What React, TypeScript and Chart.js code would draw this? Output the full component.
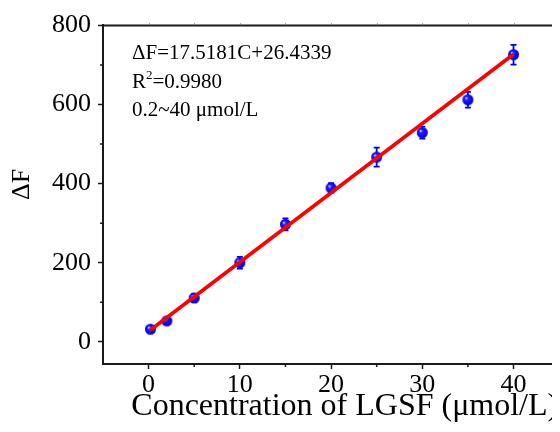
import React, { useEffect, useRef } from "react";
import { Chart, registerables } from "chart.js";

Chart.register(...registerables);

// ---- data ----
const concentrations = [0.2, 2, 5, 10, 15, 20, 25, 30, 35, 40];
const deltaF = [32, 53, 111, 200, 297, 389, 467, 529, 612, 726];
const errors = [5, 8, 10, 15, 15, 12, 24, 15, 20, 25];
const fitSlope = 17.5181;
const fitIntercept = 26.4339;
const fitRange = [0.2, 40];
const xTickValues = [0, 10, 20, 30, 40];
const xMinorTicks = [5, 15, 25, 35, 45];
const yTickValues = [0, 200, 400, 600, 800];
const yMinorTicks = [100, 300, 500, 700];
const eqLine = "ΔF=17.5181C+26.4339";
const r2Parts = ["R", "2", "=0.9980"];
const rangeLine = "0.2~40 μmol/L";
const xTitle = "Concentration of LGSF (μmol/L)";
const yTitle = "ΔF";

const SERIF = "'Liberation Serif', 'Times New Roman', serif";
const AXIS = "#1a1a1a";

function makeSphere(r: number) {
  const s = Math.ceil(r * 2 + 2);
  const c = document.createElement("canvas");
  c.width = s;
  c.height = s;
  const g = c.getContext("2d")!;
  const cx = s / 2;
  const grd = g.createRadialGradient(cx - r * 0.35, cx - r * 0.35, r * 0.05, cx, cx, r);
  grd.addColorStop(0, "#d0d0ff");
  grd.addColorStop(0.3, "#1e1eff");
  grd.addColorStop(1, "#0000d8");
  g.fillStyle = grd;
  g.beginPath();
  g.arc(cx, cx, r, 0, Math.PI * 2);
  g.fill();
  return c;
}

const errorBarPlugin = {
  id: "errorBars",
  beforeDatasetsDraw(chart: any) {
    const { ctx } = chart;
    const xs = chart.scales.x;
    const ys = chart.scales.y;
    ctx.save();
    ctx.strokeStyle = "#0000ff";
    ctx.lineWidth = 1.8;
    const cap = 3;
    concentrations.forEach((c, i) => {
      const x = xs.getPixelForValue(c);
      const yt = ys.getPixelForValue(deltaF[i] + errors[i]);
      const yb = ys.getPixelForValue(deltaF[i] - errors[i]);
      ctx.beginPath();
      ctx.moveTo(x, yt);
      ctx.lineTo(x, yb);
      ctx.moveTo(x - cap, yt);
      ctx.lineTo(x + cap, yt);
      ctx.moveTo(x - cap, yb);
      ctx.lineTo(x + cap, yb);
      ctx.stroke();
    });
    ctx.restore();
  },
};

const framePlugin = {
  id: "frame",
  afterDraw(chart: any) {
    const { ctx, chartArea } = chart;
    const xs = chart.scales.x;
    const ys = chart.scales.y;
    ctx.save();
    ctx.strokeStyle = AXIS;
    // top border
    ctx.lineWidth = 2;
    ctx.beginPath();
    ctx.moveTo(chartArea.left - 1, chartArea.top);
    ctx.lineTo(chartArea.right, chartArea.top);
    ctx.stroke();
    // top small ticks
    ctx.lineWidth = 1;
    ctx.strokeStyle = "#777";
    ctx.beginPath();
    [...xTickValues, ...xMinorTicks].forEach((v) => {
      const x = Math.round(xs.getPixelForValue(v)) + 0.5;
      ctx.moveTo(x, chartArea.top);
      ctx.lineTo(x, chartArea.top - 2);
    });
    ctx.stroke();
    // minor ticks bottom / left
    ctx.strokeStyle = AXIS;
    ctx.lineWidth = 1.5;
    ctx.beginPath();
    xMinorTicks.forEach((v) => {
      const x = xs.getPixelForValue(v);
      ctx.moveTo(x, chartArea.bottom);
      ctx.lineTo(x, chartArea.bottom + 3);
    });
    yMinorTicks.forEach((v) => {
      const y = ys.getPixelForValue(v);
      ctx.moveTo(chartArea.left, y);
      ctx.lineTo(chartArea.left - 3, y);
    });
    ctx.stroke();

    // y axis title
    ctx.fillStyle = "#000";
    ctx.save();
    ctx.translate(14, chartArea.top + 159);
    ctx.rotate(-Math.PI / 2);
    ctx.textAlign = "center";
    ctx.textBaseline = "middle";
    ctx.font = `26px ${SERIF}`;
    ctx.fillText(yTitle, 0, 0);
    ctx.restore();

    // annotation
    ctx.textBaseline = "middle";
    ctx.textAlign = "left";
    ctx.font = `21px ${SERIF}`;
    const lx = chartArea.left + 29;
    ctx.fillText(eqLine, lx, chartArea.top + 28);
    const y2 = chartArea.top + 57;
    ctx.fillText(r2Parts[0], lx, y2);
    const rW = ctx.measureText(r2Parts[0]).width;
    ctx.font = `13px ${SERIF}`;
    ctx.fillText(r2Parts[1], lx + rW, y2 - 7);
    const sW = ctx.measureText(r2Parts[1]).width;
    ctx.font = `21px ${SERIF}`;
    ctx.fillText(r2Parts[2], lx + rW + sW, y2);
    ctx.fillText(rangeLine, lx, chartArea.top + 85);
    ctx.restore();
  },
};

export default function App() {
  const ref = useRef<HTMLCanvasElement | null>(null);

  useEffect(() => {
    if (!ref.current) return;
    const sphere = makeSphere(5.5);
    const chart = new Chart(ref.current, {
      type: "scatter",
      data: {
        datasets: [
          {
            type: "line",
            label: "fit",
            data: fitRange.map((x) => ({ x, y: fitSlope * x + fitIntercept })),
            borderColor: "#ff0000",
            borderWidth: 3.6,
            pointRadius: 0,
            order: 0,
          },
          {
            type: "scatter",
            label: "data",
            data: concentrations.map((x, i) => ({ x, y: deltaF[i] })),
            pointStyle: sphere as any,
            pointRadius: 5.5,
            order: 1,
          },
        ],
      },
      options: {
        responsive: false,
        animation: false,
        events: [],
        layout: { padding: { top: 16.6, left: 0, right: 0, bottom: 0 } },
        plugins: {
          legend: { display: false },
          tooltip: { enabled: false },
        },
        scales: {
          x: {
            type: "linear",
            min: -5,
            max: 48,
            afterBuildTicks: (s: any) => {
              s.ticks = xTickValues.map((value) => ({ value }));
            },
            afterFit: (s: any) => {
              s.height = 68;
            },
            grid: {
              drawOnChartArea: false,
              drawTicks: true,
              tickLength: 5,
              tickWidth: 1.5,
              tickColor: AXIS,
            },
            border: { display: true, color: AXIS, width: 2 },
            ticks: {
              color: "#000",
              padding: 1,
              maxRotation: 0,
              font: { family: SERIF, size: 26 },
              callback: (v: any) => String(v),
            },
            title: {
              display: true,
              text: xTitle,
              color: "#000",
              font: { family: SERIF, size: 32, lineHeight: 1.2 },
              padding: { top: 0, bottom: 6 },
            },
          },
          y: {
            type: "linear",
            min: -56,
            max: 800,
            afterBuildTicks: (s: any) => {
              s.ticks = yTickValues.map((value) => ({ value }));
            },
            afterFit: (s: any) => {
              s.width = 95;
            },
            grid: {
              drawOnChartArea: false,
              drawTicks: true,
              tickLength: 5,
              tickWidth: 1.5,
              tickColor: AXIS,
            },
            border: { display: true, color: AXIS, width: 2 },
            ticks: {
              color: "#000",
              padding: 7,
              font: { family: SERIF, size: 26, lineHeight: 0.8 },
              callback: (v: any) => String(v),
            },
            title: { display: false },
          },
        },
      },
      plugins: [errorBarPlugin, framePlugin],
    });
    return () => chart.destroy();
  }, []);

  return (
    <div style={{ width: 552, height: 424, overflow: "hidden", marginBottom: -8 }}>
      <canvas
        ref={ref}
        width={585}
        height={424}
        style={{ display: "block", width: 585, height: 424 }}
      />
    </div>
  );
}
